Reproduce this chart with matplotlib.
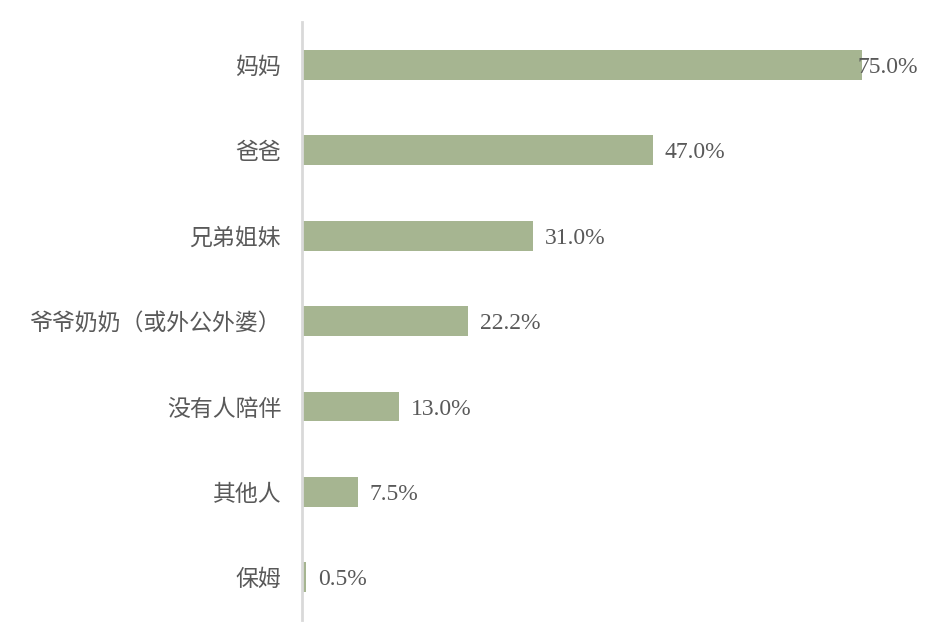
import matplotlib
matplotlib.use("Agg")
import matplotlib.pyplot as plt

categories = ["妈妈", "爸爸", "兄弟姐妹", "爷爷奶奶（或外公外婆）", "没有人陪伴", "其他人", "保姆"]
values = [75.0, 47.0, 31.0, 22.2, 13.0, 7.5, 0.5]
labels = ["75.0%", "47.0%", "31.0%", "22.2%", "13.0%", "7.5%", "0.5%"]

bar_color = "#a6b591"
text_color = "#595959"

fig = plt.figure(figsize=(9.26, 6.40), dpi=100)
ax = fig.add_axes([302 / 926, 0.03125, 597 / 926, 0.934])

y = list(range(len(categories)))
ax.barh(y, values, height=0.35, color=bar_color)

for yi, v, lab in zip(y, values, labels):
    x = min(v + 1.6, 74.4)
    ax.text(x, yi + 0.03, lab, va="center", ha="left", fontsize=17,
            family=["Liberation Serif", "DejaVu Serif"], color=text_color)

ax.set_xlim(0, 80)
ax.set_ylim(len(categories) - 0.5, -0.5)
ax.set_yticks(y)
ax.set_yticklabels(categories, family=["Noto Sans CJK SC", "DejaVu Sans"],
                   fontsize=16.5, color=text_color)
ax.tick_params(axis="y", length=0, pad=15)
ax.set_xticks([])

for side in ["top", "right", "bottom"]:
    ax.spines[side].set_visible(False)
ax.spines["left"].set_color("#d9d9d9")
ax.spines["left"].set_linewidth(2)

fig.savefig("out.png", dpi=100)
